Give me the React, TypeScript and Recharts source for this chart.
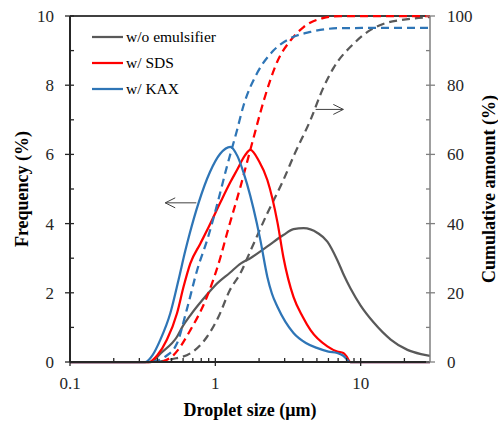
import {
  ComposedChart,
  Line,
  XAxis,
  YAxis,
  Legend,
  ReferenceLine,
} from "recharts";

// droplet size (µm) vs frequency (%) / cumulative amount (%)
const noEmulsFreq = [
  [0.1, 0], [0.36, 0], [0.42, 0.25], [0.545, 0.73], [0.6, 1.05],
  [0.673, 1.35], [0.877, 1.95], [1.0, 2.22], [1.26, 2.58], [1.5, 2.85],
  [1.74, 3.0], [2.28, 3.34], [2.94, 3.67], [3.45, 3.84], [4.05, 3.87],
  [5.05, 3.73], [5.9, 3.48], [6.9, 2.95], [7.7, 2.49], [8.5, 2.13],
  [10, 1.63], [12.3, 1.14], [16.1, 0.65], [21, 0.35], [26, 0.23],
  [30, 0.18],
];
const noEmulsCum = [
  [0.4, 0], [0.5, 0.8], [0.673, 2.5], [0.877, 7.3], [1.05, 13],
  [1.26, 20.8], [1.49, 25.7], [1.74, 32], [2.28, 43], [2.94, 52.6],
  [3.5, 60], [4.52, 70], [5.5, 79], [6.51, 85], [8.95, 92],
  [11.7, 96], [15, 98], [18.9, 98.8], [30, 99.7],
];
const sdsFreq = [
  [0.1, 0], [0.35, 0], [0.4, 0.2], [0.464, 0.64], [0.545, 1.41],
  [0.605, 2.18], [0.673, 2.85], [0.788, 3.42], [0.9, 3.9], [1.08, 4.6],
  [1.27, 5.2], [1.41, 5.55], [1.6, 5.97], [1.74, 6.13], [2.0, 5.8],
  [2.28, 5.26], [2.68, 4.02], [2.94, 3.03], [3.45, 1.88], [4.0, 1.3],
  [4.52, 0.92], [5.9, 0.45], [6.9, 0.3], [7.6, 0.26], [8.0, 0.16],
  [8.5, 0], [30, 0],
];
const sdsCum = [
  [0.43, 0], [0.516, 2], [0.673, 9.2], [0.877, 18.9], [1.08, 30],
  [1.2, 37], [1.49, 50.7], [1.79, 63.2], [2.16, 75.7], [2.68, 87],
  [3.3, 93], [4.05, 96.8], [5.5, 99.4], [7.3, 100], [30, 100],
];
const kaxFreq = [
  [0.1, 0], [0.33, 0], [0.37, 0.2], [0.418, 0.64], [0.49, 1.41],
  [0.558, 2.37], [0.62, 3.2], [0.665, 3.7], [0.767, 4.6], [0.92, 5.5],
  [1.08, 6.02], [1.27, 6.22], [1.42, 5.95], [1.57, 5.45], [1.93, 4.01],
  [2.04, 3.53], [2.28, 2.46], [2.45, 1.98], [2.68, 1.59], [3.45, 0.84],
  [4.2, 0.55], [5.05, 0.4], [6.0, 0.3], [6.9, 0.26], [7.6, 0.18],
  [8.5, 0], [30, 0],
];
const kaxCum = [
  [0.37, 0], [0.45, 1.5], [0.545, 5.4], [0.635, 15], [0.75, 26.6],
  [0.89, 36], [1.02, 44.9], [1.2, 56.4], [1.41, 67], [1.56, 74],
  [1.94, 83.5], [2.51, 90], [3.3, 93.6], [4.52, 95.4], [7.3, 96.5],
  [30, 96.6],
];

const seriesNames = ["w/o emulsifier", "w/ SDS", "w/ KAX"];
const xTicks = [
  0.1, 0.2, 0.3, 0.4, 0.5, 0.6, 0.7, 0.8, 0.9,
  1, 2, 3, 4, 5, 6, 7, 8, 9, 10, 20,
];
const xLabels = [0.1, 1, 10];
const freqTicks = [0, 1, 2, 3, 4, 5, 6, 7, 8, 9, 10];
const cumTicks = [0, 10, 20, 30, 40, 50, 60, 70, 80, 90, 100];

// arrows pointing to each axis
const freqArrow = [{ x: 0.74, y: 4.6 }, { x: 0.452, y: 4.6 }];
const cumArrow = [{ x: 4.9, y: 73 }, { x: 7.6, y: 73 }];

const GRAY = "#595959";
const RED = "#FF0000";
const BLUE = "#2E75B6";
const DARK = "#262626";
const SERIF = '"Liberation Serif", "Times New Roman", serif';

const toRows = (pts: number[][]) =>
  pts.map(([x, y]) => ({ x, y }));

const XTick = (props: any) => {
  const { x, y, payload } = props;
  const major = xLabels.includes(payload.value);
  return (
    <g>
      <line x1={x} x2={x} y1={y - 4} y2={major ? y + 4 : y} stroke={DARK} strokeWidth={1.3} />
      {major && (
        <text x={x} y={y + 21} dy="0.35em" textAnchor="middle" fontFamily={SERIF} fontSize={17} fill={DARK}>
          {payload.value}
        </text>
      )}
    </g>
  );
};

const LeftTick = (props: any) => {
  const { x, y, payload } = props;
  const major = payload.value % 2 === 0;
  return (
    <g>
      <line x1={major ? x - 5 : x} x2={x + 4} y1={y} y2={y} stroke={DARK} strokeWidth={1.3} />
      {major && (
        <text x={x - 16} y={y} dy="0.35em" textAnchor="end" fontFamily={SERIF} fontSize={17} fill={DARK}>
          {payload.value}
        </text>
      )}
    </g>
  );
};

const RightTick = (props: any) => {
  const { x, y, payload } = props;
  const major = payload.value % 20 === 0;
  return (
    <g>
      <line x1={x - 4} x2={major ? x + 5 : x} y1={y} y2={y} stroke="#7F7F7F" strokeWidth={1.3} />
      {major && (
        <text x={x + 17} y={y} dy="0.35em" textAnchor="start" fontFamily={SERIF} fontSize={17} fill={DARK}>
          {payload.value}
        </text>
      )}
    </g>
  );
};

const Title = (props: any) => {
  const { viewBox, text, side } = props;
  const vb = viewBox || {};
  let x = vb.x + vb.width / 2;
  let y = vb.y + vb.height / 2;
  let angle = 0;
  if (side === "left") {
    x = vb.x + 22;
    angle = -90;
  } else if (side === "right") {
    x = vb.x + vb.width - 9;
    angle = -90;
  } else {
    y = vb.y + 48;
  }
  return (
    <text
      x={x}
      y={y}
      dy="0.35em"
      textAnchor="middle"
      transform={angle ? `rotate(${angle} ${x} ${y})` : undefined}
      fontFamily={SERIF}
      fontSize={18}
      fontWeight="bold"
      fill="#000"
    >
      {text}
    </text>
  );
};

const Arrow = (props: any) => {
  const { x1, y1, x2, y2 } = props;
  const dir = x2 > x1 ? 1 : -1;
  return (
    <g>
      <line x1={x1} y1={y1} x2={x2} y2={y2} stroke="#404040" strokeWidth={1} />
      <polyline
        points={`${x2 - dir * 10},${y2 - 5} ${x2},${y2} ${x2 - dir * 10},${y2 + 5}`}
        stroke="#404040"
        strokeWidth={1}
        fill="none"
      />
    </g>
  );
};

const LegendBox = (props: any) => {
  const items = (props.payload || [])
    .filter((it: any) => seriesNames.includes(it.value))
    .sort(
      (a: any, b: any) => seriesNames.indexOf(a.value) - seriesNames.indexOf(b.value)
    );
  return (
    <div style={{ fontFamily: SERIF, fontSize: 15.5, color: "#000" }}>
      {items.map((it: any) => (
        <div key={it.value} style={{ display: "flex", alignItems: "center", height: 26 }}>
          <svg width={31} height={4} style={{ display: "block" }}>
            <line x1={0} x2={31} y1={2} y2={2} stroke={it.color} strokeWidth={2.25} />
          </svg>
          <span style={{ marginLeft: 3, lineHeight: "26px", whiteSpace: "nowrap" }}>{it.value}</span>
        </div>
      ))}
    </div>
  );
};

const App = () => {
  return (
    <div style={{ position: "absolute", left: 0, top: 0, width: 498, height: 424, background: "#fff" }}>
      <ComposedChart
        width={498}
        height={424}
        margin={{ top: 16, right: 0, bottom: 0, left: 0 }}
      >
        <XAxis
          dataKey="x"
          type="number"
          scale="log"
          domain={[0.1, 30]}
          allowDataOverflow
          ticks={xTicks}
          interval={0}
          height={62}
          tickSize={0}
          tickMargin={0}
          tickLine={false}
          axisLine={{ stroke: DARK, strokeWidth: 2 }}
          tick={<XTick />}
          label={(p: any) => <Title {...p} text="Droplet size (μm)" side="bottom" />}
        />
        <YAxis
          yAxisId="left"
          domain={[0, 10]}
          ticks={freqTicks}
          interval={0}
          width={70}
          tickSize={0}
          tickMargin={0}
          tickLine={false}
          axisLine={{ stroke: DARK, strokeWidth: 2 }}
          tick={<LeftTick />}
          label={(p: any) => <Title {...p} text="Frequency (%)" side="left" />}
        />
        <YAxis
          yAxisId="right"
          orientation="right"
          domain={[0, 100]}
          ticks={cumTicks}
          interval={0}
          width={68}
          tickSize={0}
          tickMargin={0}
          tickLine={false}
          axisLine={{ stroke: "#7F7F7F", strokeWidth: 1.5 }}
          tick={<RightTick />}
          label={(p: any) => <Title {...p} text="Cumulative amount (%)" side="right" />}
        />

        <ReferenceLine yAxisId="left" y={10} stroke="#404040" strokeWidth={2} />

        <Line
          yAxisId="right"
          data={toRows(noEmulsCum)}
          dataKey="y"
          type="monotone"
          stroke={GRAY}
          strokeWidth={2.25}
          strokeDasharray="8 5"
          dot={false}
          legendType="none"
          name="w/o emulsifier cumulative"
          isAnimationActive={false}
        />
        <Line
          yAxisId="left"
          data={toRows(noEmulsFreq)}
          dataKey="y"
          type="monotone"
          stroke={GRAY}
          strokeWidth={2.25}
          dot={false}
          name="w/o emulsifier"
          isAnimationActive={false}
        />
        <Line
          yAxisId="right"
          data={toRows(sdsCum)}
          dataKey="y"
          type="monotone"
          stroke={RED}
          strokeWidth={2.25}
          strokeDasharray="8 5"
          dot={false}
          legendType="none"
          name="w/ SDS cumulative"
          isAnimationActive={false}
        />
        <Line
          yAxisId="left"
          data={toRows(sdsFreq)}
          dataKey="y"
          type="monotone"
          stroke={RED}
          strokeWidth={2.25}
          dot={false}
          name="w/ SDS"
          isAnimationActive={false}
        />
        <Line
          yAxisId="right"
          data={toRows(kaxCum)}
          dataKey="y"
          type="monotone"
          stroke={BLUE}
          strokeWidth={2.25}
          strokeDasharray="8 5"
          dot={false}
          legendType="none"
          name="w/ KAX cumulative"
          isAnimationActive={false}
        />
        <Line
          yAxisId="left"
          data={toRows(kaxFreq)}
          dataKey="y"
          type="monotone"
          stroke={BLUE}
          strokeWidth={2.25}
          dot={false}
          name="w/ KAX"
          isAnimationActive={false}
        />

        <ReferenceLine
          yAxisId="left"
          segment={freqArrow}
          shape={<Arrow />}
        />
        <ReferenceLine
          yAxisId="right"
          segment={cumArrow}
          shape={<Arrow />}
        />

        <Legend
          layout="vertical"
          verticalAlign="middle"
          align="center"
          wrapperStyle={{ left: 92, top: 24, width: "auto", height: "auto" }}
          content={<LegendBox />}
        />
      </ComposedChart>
    </div>
  );
};

export default App;
